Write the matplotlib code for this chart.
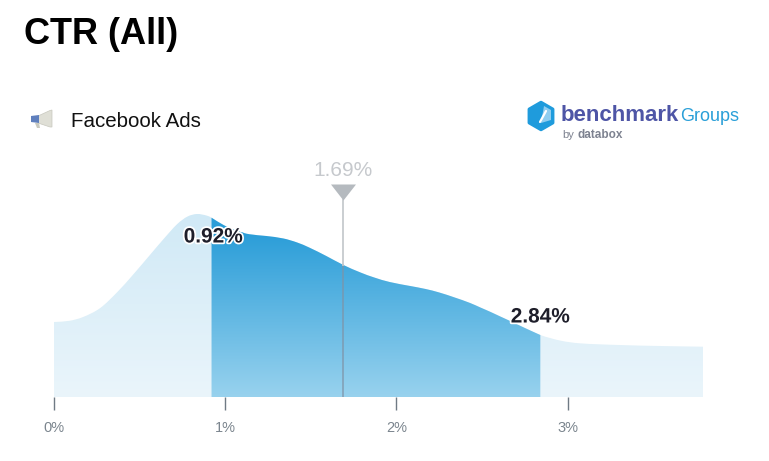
import numpy as np
import matplotlib
matplotlib.use("Agg")
import matplotlib.pyplot as plt
import matplotlib.patheffects as pe
from matplotlib.colors import LinearSegmentedColormap
from matplotlib.patches import Polygon, RegularPolygon, PathPatch
from matplotlib.path import Path

plt.rcParams['font.family'] = ['Liberation Sans', 'DejaVu Sans']

# --- Data ---
ctr = [0.00, 0.09, 0.17, 0.27, 0.37, 0.46, 0.56, 0.64, 0.72, 0.78, 0.835, 0.89, 0.92,
       0.99, 1.07, 1.14, 1.24, 1.34, 1.42, 1.49, 1.59, 1.69, 1.79, 1.87, 1.96, 2.08,
       2.17, 2.25, 2.34, 2.43, 2.49, 2.55, 2.60, 2.67, 2.75, 2.84, 2.96, 3.07, 3.30,
       3.54, 3.79]
density = [75, 76.2, 80, 89, 105, 122, 142, 158, 173, 180.5, 183, 181.5, 179.3,
           172, 166, 162.8, 161, 158.5, 154.5, 149.5, 141, 132, 124.5, 119.5, 115, 111,
           108, 104.5, 99.5, 94, 89.5, 85, 81, 75.5, 69, 62, 56.3, 53.7, 52,
           51, 50.3]
x_ticks = [0, 1, 2, 3]
x_labels = ["0%", "1%", "2%", "3%"]
low_pct = 0.92
high_pct = 2.84
median_pct = 1.69

W, H = 769, 461
fig = plt.figure(figsize=(W / 100, H / 100), dpi=100)

# chart axes, the bottom edge is the baseline of the area
ax = fig.add_axes([54 / W, 1 - 397 / H, (703 - 54) / W, (397 - 150) / H])
ax.patch.set_alpha(0)
for s in ax.spines.values():
    s.set_visible(False)
ax.set_yticks([])
ax.set_xticks(x_ticks)
ax.set_xticklabels(x_labels)
ax.tick_params(axis='x', length=9.4, width=1, color='#6f7a84', labelcolor='#7b858e',
               labelsize=10.5, pad=8)

ctr_arr = np.array(ctr)
dens_arr = np.array(density)


def area_path(xs, ys):
    # closed area under a smooth curve through the points (catmull-rom as bezier)
    verts = [(xs[0], 0), (xs[0], ys[0])]
    codes = [Path.MOVETO, Path.LINETO]
    n = len(xs)
    for i in range(n - 1):
        i0, i3 = max(i - 1, 0), min(i + 2, n - 1)
        h = xs[i + 1] - xs[i]
        m1 = (ys[i + 1] - ys[i0]) / (xs[i + 1] - xs[i0])
        m2 = (ys[i3] - ys[i]) / (xs[i3] - xs[i])
        verts += [(xs[i] + h / 3, ys[i] + m1 * h / 3),
                  (xs[i + 1] - h / 3, ys[i + 1] - m2 * h / 3),
                  (xs[i + 1], ys[i + 1])]
        codes += [Path.CURVE4] * 3
    verts += [(xs[-1], 0), (xs[0], 0)]
    codes += [Path.LINETO, Path.CLOSEPOLY]
    return Path(verts, codes)


def gradient_area(mask, top, bottom, grad_top, zorder):
    cmap = LinearSegmentedColormap.from_list("g", [bottom, top])
    img = ax.imshow(np.linspace(0, 1, 256).reshape(-1, 1), cmap=cmap, origin='lower',
                    extent=(0, 3.79, 0, grad_top), aspect='auto', zorder=zorder)
    patch = PathPatch(area_path(ctr_arr[mask], dens_arr[mask]), transform=ax.transData,
                      fc='none', ec='none')
    ax.add_patch(patch)
    img.set_clip_path(patch)


gradient_area(np.ones_like(ctr_arr, dtype=bool), '#d0e9f6', '#eaf5fb', 185, 1)
# the strong blue holds down to about the shoulder of the curve
cmap_top = 165
gradient_area((ctr_arr >= low_pct) & (ctr_arr <= high_pct), '#2a9dd8', '#98d2ee', cmap_top, 2)
# strip above the gradient keeps the strong blue on the small peak
peak_mask = (ctr_arr >= low_pct) & (ctr_arr <= 1.2)
peak = PathPatch(area_path(ctr_arr[peak_mask], dens_arr[peak_mask]), transform=ax.transData,
                 fc='none', ec='none')
ax.add_patch(peak)
peak_fill = ax.axhspan(cmap_top - 1, 190, color='#2a9dd8', lw=0, zorder=2)
peak_fill.set_clip_path(peak)
ax.set_xlim(0, 3.79)
ax.set_ylim(0, 247)

# median marker
med_h = np.interp(median_pct, ctr_arr, dens_arr)
ax.plot([median_pct, median_pct], [0, med_h], color='#7f93a6', alpha=0.7, lw=1.3, zorder=3)
ax.plot([median_pct, median_pct], [med_h, 197], color='#c6cace', lw=1.3, zorder=3)
ax.plot([median_pct], [205], marker=[(-1, 0.64), (1, 0.64), (0, -0.64)], ms=18,
        color='#b5babf', mew=0, zorder=4)
ax.text(median_pct, 227, f"{median_pct}%", color='#c6c9cd', fontsize=15, ha='center', va='center')

halo = [pe.withStroke(linewidth=2.5, foreground='white')]
ax.text(low_pct + 0.01, 160, f"{low_pct}%", color='#1e1e2a', fontsize=15, fontweight='bold',
        ha='center', va='center', zorder=5, path_effects=halo)
ax.text(high_pct, 80, f"{high_pct}%", color='#1e1e2a', fontsize=15, fontweight='bold',
        ha='center', va='center', zorder=5, path_effects=halo)

# overlay in pixel coordinates for header, icon and logo
ov = fig.add_axes([0, 0, 1, 1])
ov.set_xlim(0, W)
ov.set_ylim(H, 0)
ov.axis('off')
ov.patch.set_alpha(0)

ov.text(24, 35, "CTR (All)", fontsize=26, fontweight='bold', color='black', va='center')
ov.text(71, 121.5, "Facebook Ads", fontsize=14.8, color='#111111', va='center')

# megaphone icon
ov.add_patch(Polygon([(38, 116), (50, 110.5), (52, 110), (52, 127), (50, 127), (38, 123)],
                     fc='#dfdfd6', ec='#c8c8be', lw=0.5))
ov.add_patch(Polygon([(31, 116), (39, 115), (39, 123), (31, 122)], fc='#5f7fbd', ec='none'))
ov.add_patch(Polygon([(35, 123), (39, 123), (40, 128), (37, 128)], fc='#c9c9bf', ec='none'))

# logo
ov.add_patch(RegularPolygon((541, 116), 6, radius=13.5, fc='#1f9bdc', ec='#1f9bdc', lw=2.5,
                            joinstyle='round'))
ov.add_patch(Polygon([(544, 106), (551, 110), (551, 120), (541, 123)], fc='#8fcdf0', ec='none'))
ov.plot([540, 546], [122, 111], color='white', lw=1.6, solid_capstyle='round')
ov.text(561, 115.5, "benchmark", fontsize=16, fontweight='bold', color='#4e55a6', va='center')
ov.text(680, 116.5, "Groups", fontsize=13, color='#2a9fd8', va='center')
ov.text(562, 135, "by", fontsize=8, color='#7d8290', va='center')
ov.text(577, 135, "databox", fontsize=8.5, fontweight='bold', color='#7d8290', va='center')

fig.savefig("out.png", dpi=100)
